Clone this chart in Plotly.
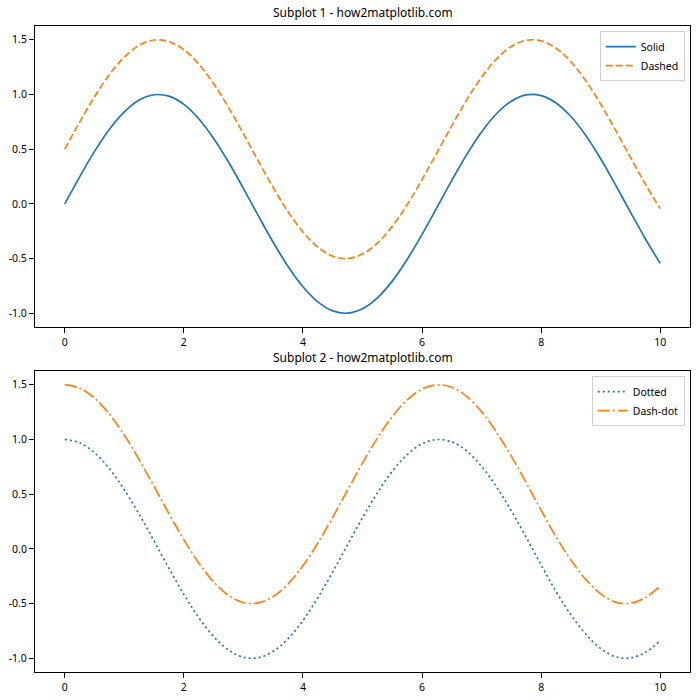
import plotly.graph_objects as go
from plotly.subplots import make_subplots

x_vals = [0.0, 0.25, 0.5, 0.75, 1.0, 1.25, 1.5, 1.75, 2.0, 2.25, 2.5, 2.75, 3.0, 3.25,
          3.5, 3.75, 4.0, 4.25, 4.5, 4.75, 5.0, 5.25, 5.5, 5.75, 6.0, 6.25, 6.5, 6.75,
          7.0, 7.25, 7.5, 7.75, 8.0, 8.25, 8.5, 8.75, 9.0, 9.25, 9.5, 9.75, 10.0]

solid_vals = [0.0, 0.247, 0.479, 0.682, 0.841, 0.949, 0.997, 0.984, 0.909, 0.778, 0.598,
              0.382, 0.141, -0.108, -0.351, -0.572, -0.757, -0.895, -0.978, -0.999, -0.959,
              -0.859, -0.706, -0.508, -0.279, -0.033, 0.215, 0.450, 0.657, 0.823, 0.938,
              0.995, 0.989, 0.922, 0.798, 0.625, 0.412, 0.173, -0.075, -0.319, -0.544]

dashed_vals = [0.5, 0.747, 0.979, 1.182, 1.341, 1.449, 1.497, 1.484, 1.409, 1.278, 1.098,
               0.882, 0.641, 0.392, 0.149, -0.072, -0.257, -0.395, -0.478, -0.499, -0.459,
               -0.359, -0.206, -0.008, 0.221, 0.467, 0.715, 0.950, 1.157, 1.323, 1.438,
               1.495, 1.489, 1.422, 1.298, 1.125, 0.912, 0.673, 0.425, 0.181, -0.044]

dotted_vals = [1.0, 0.969, 0.878, 0.732, 0.540, 0.315, 0.071, -0.178, -0.416, -0.628, -0.801,
               -0.924, -0.990, -0.994, -0.936, -0.821, -0.654, -0.446, -0.211, 0.038, 0.284,
               0.512, 0.709, 0.861, 0.960, 0.999, 0.977, 0.894, 0.754, 0.567, 0.347,
               0.105, -0.146, -0.389, -0.602, -0.779, -0.911, -0.986, -0.997, -0.946, -0.839]

dashdot_vals = [1.5, 1.469, 1.378, 1.232, 1.040, 0.815, 0.571, 0.322, 0.084, -0.128, -0.301,
                -0.424, -0.490, -0.494, -0.436, -0.321, -0.154, 0.054, 0.289, 0.538, 0.784,
                1.012, 1.209, 1.361, 1.460, 1.499, 1.477, 1.394, 1.254, 1.067, 0.847,
                0.605, 0.354, 0.111, -0.102, -0.279, -0.411, -0.486, -0.497, -0.446, -0.339]

titles = ["Subplot 1 - how2matplotlib.com", "Subplot 2 - how2matplotlib.com"]
x_ticks = [0, 2, 4, 6, 8, 10]
y_ticks = [-1.0, -0.5, 0.0, 0.5, 1.0, 1.5]
y_tick_text = ["-1.0", "-0.5", "0.0", "0.5", "1.0", "1.5"]

BLUE = "#1f77b4"
ORANGE = "#ff7f0e"
FONT = "Noto Sans"

fig = make_subplots(rows=2, cols=1)

fig.add_trace(go.Scatter(x=x_vals, y=solid_vals, mode="lines", name="Solid",
                         line=dict(color=BLUE, width=1.7, shape="spline"), legend="legend"),
              row=1, col=1)
fig.add_trace(go.Scatter(x=x_vals, y=dashed_vals, mode="lines", name="Dashed",
                         line=dict(color=ORANGE, width=1.7, shape="spline", dash="7px,3px"),
                         legend="legend"), row=1, col=1)
fig.add_trace(go.Scatter(x=x_vals, y=dotted_vals, mode="lines", name="Dotted",
                         line=dict(color=BLUE, width=1.7, shape="spline", dash="2px,3px"),
                         legend="legend2"), row=2, col=1)
fig.add_trace(go.Scatter(x=x_vals, y=dashdot_vals, mode="lines", name="Dash-dot",
                         line=dict(color=ORANGE, width=1.7, shape="spline",
                                   dash="12px,3px,2px,3px"),
                         legend="legend2"), row=2, col=1)

axis_common = dict(showgrid=False, zeroline=False, showline=True, linecolor="black",
                   linewidth=1, mirror=True, ticks="outside", ticklen=5, tickcolor="black",
                   automargin=False,
                   tickfont=dict(family=FONT, size=10.5, color="black"))

legend_common = dict(xanchor="right", yanchor="top", bgcolor="white",
                     bordercolor="#d0d0d0", borderwidth=1, font=dict(family=FONT, size=10.5),
                     tracegroupgap=0, itemwidth=30)

fig.update_layout(
    width=700, height=700,
    paper_bgcolor="white", plot_bgcolor="white",
    margin=dict(l=35, r=10, t=26, b=28, autoexpand=False),
    font=dict(family=FONT, color="black"),
    xaxis=dict(domain=[0, 1], anchor="y", range=[-0.5, 10.5], tickvals=x_ticks, **axis_common),
    yaxis=dict(domain=[0.5341, 1], anchor="x", range=[-1.125, 1.625], tickvals=y_ticks,
               ticktext=y_tick_text, **axis_common),
    xaxis2=dict(domain=[0, 1], anchor="y2", range=[-0.5, 10.5], tickvals=x_ticks, **axis_common),
    yaxis2=dict(domain=[0, 0.4659], anchor="x2", range=[-1.125, 1.625], tickvals=y_ticks,
                ticktext=y_tick_text, **axis_common),
    legend=dict(x=0.992, y=0.992, **legend_common),
    legend2=dict(x=0.992, y=0.458, **legend_common),
    annotations=[
        dict(text=titles[0], x=0.5, y=1.0, xref="paper", yref="paper", xanchor="center",
             yanchor="bottom", yshift=3, showarrow=False, font=dict(family=FONT, size=12)),
        dict(text=titles[1], x=0.5, y=0.4659, xref="paper", yref="paper", xanchor="center",
             yanchor="bottom", yshift=3, showarrow=False, font=dict(family=FONT, size=12)),
    ],
)

fig.write_html("out.html", config={"displayModeBar": False},
               post_script="document.body.style.margin='0';document.body.style.padding='0';")
